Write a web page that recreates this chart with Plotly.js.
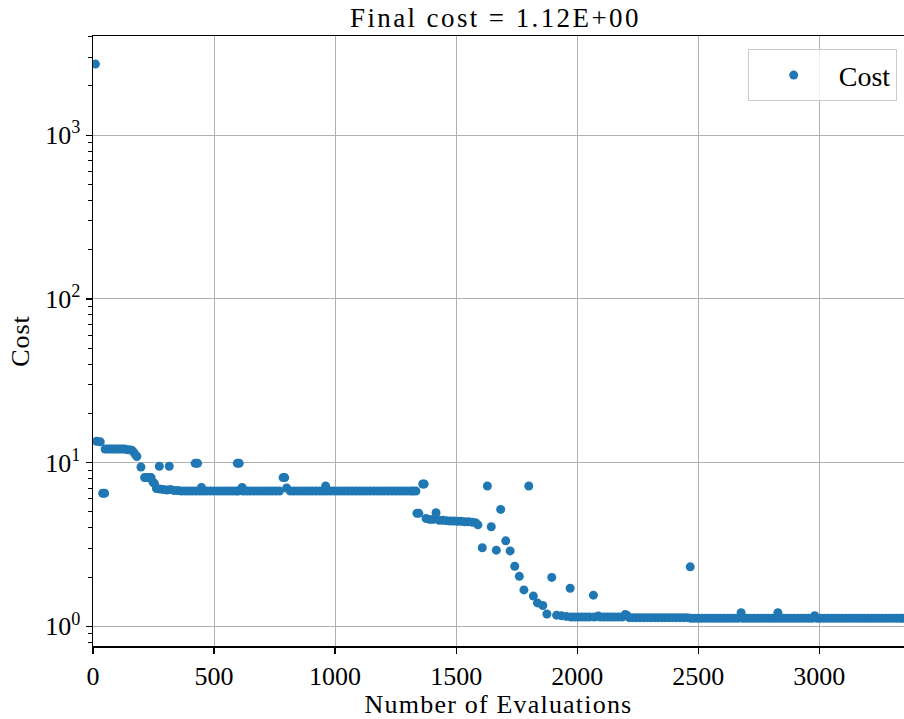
<!DOCTYPE html>
<html>
<head>
<meta charset="utf-8">
<script src="https://cdn.plot.ly/plotly-3.0.1.min.js"></script>
<style>
html,body{margin:0;padding:0;background:#fff;}
#chart{width:904px;height:719px;}
#chart .gtitle{letter-spacing:2.4px;}
#chart .xtitle{letter-spacing:1.2px;}
#chart .ytitle{letter-spacing:1px;}
</style>
</head>
<body>
<div id="chart"></div>
<script>
// Number of evaluations (x) and cost (y)
const evalsEarly = [10, 15, 30, 40, 48, 50, 60, 70, 80, 90, 100, 110, 120, 130, 140, 150, 160, 168, 175, 181, 198, 213, 222, 232, 240, 248, 254, 262, 274, 275, 290, 305, 315, 320, 335];
const costEarly  = [2720, 13.5, 13.4, 6.5, 6.5, 12.1, 12.1, 12.1, 12.1, 12.1, 12.1, 12.1, 12.1, 12.1, 12.0, 12.0, 11.9, 11.6, 11.2, 10.9, 9.4, 8.1, 8.1, 8.1, 8.1, 7.6, 7.45, 6.95, 9.5, 6.9, 6.85, 6.8, 9.5, 6.85, 6.75];

const evalsMid = [350, 365, 380, 395, 410, 422, 425, 432, 440, 448, 455, 470, 485, 500, 515, 530, 545, 560, 575, 590, 596, 600, 604, 616, 620, 635, 650, 665, 680, 695, 710, 725, 740, 755, 770, 785, 792, 800, 815, 830, 845, 860, 875, 890, 905, 920, 935, 950, 961, 965, 980, 995, 1010, 1025, 1040, 1055, 1070, 1085, 1100, 1115, 1130, 1145, 1160, 1175, 1190, 1205, 1220, 1235, 1250, 1265, 1280, 1295, 1310, 1322, 1334];
const costMid  = [6.75, 6.7, 6.7, 6.7, 6.7, 9.9, 6.7, 9.9, 6.7, 7.05,
                  6.7, 6.7, 6.7, 6.7, 6.7, 6.7, 6.7, 6.7, 6.7, 6.7,
                  9.9, 6.7, 9.9, 7.05,
                  6.7, 6.7, 6.7, 6.7, 6.7, 6.7, 6.7, 6.7, 6.7, 6.7, 6.7,
                  8.1, 8.1, 7.0,
                  6.7, 6.7, 6.7, 6.7, 6.7, 6.7, 6.7, 6.7, 6.7, 6.7,
                  7.2,
                  6.7, 6.7, 6.7, 6.7, 6.7, 6.7, 6.7, 6.7, 6.7, 6.7, 6.7, 6.7, 6.7,
                  6.7, 6.7, 6.7, 6.7, 6.7, 6.7, 6.7, 6.7, 6.7, 6.7, 6.7, 6.7, 6.7];

const evalsDrop = [1338, 1346, 1362, 1368, 1376, 1390, 1405, 1417, 1430, 1445, 1460, 1475, 1490, 1505, 1520, 1535, 1550, 1565, 1580, 1590, 1608, 1629, 1645, 1666, 1684, 1705, 1723, 1742, 1761, 1780, 1800, 1819, 1836, 1858, 1875, 1895, 1915, 1935, 1955, 1971];
const costDrop  = [4.9, 4.9, 7.4, 7.4, 4.56, 4.5, 4.5, 4.94, 4.45, 4.45, 4.42, 4.4, 4.4, 4.38, 4.38, 4.35, 4.35, 4.33, 4.3, 4.17, 3.02, 7.2, 4.06, 2.92, 5.18, 3.33, 2.89, 2.33, 2.02, 1.67, 7.2, 1.53, 1.39, 1.34, 1.19, 1.99, 1.17, 1.16, 1.15, 1.71];

const evalsLate = [1975, 1990, 2005, 2020, 2035, 2050, 2067, 2070, 2087, 2095, 2110, 2125, 2140, 2155, 2170, 2185, 2198, 2205,
                   2215, 2230, 2245, 2260, 2275, 2290, 2305, 2320, 2335, 2350, 2365, 2380, 2395, 2410, 2425, 2440, 2455, 2467,
                   2470, 2485, 2500, 2515, 2530, 2545, 2560, 2575, 2590, 2605, 2620, 2635, 2650, 2665, 2677,
                   2685, 2700, 2715, 2730, 2745, 2760, 2775, 2790, 2805, 2820, 2829,
                   2835, 2850, 2865, 2880, 2895, 2910, 2925, 2940, 2955, 2970, 2981,
                   2990, 3005, 3020, 3035, 3050, 3065, 3080, 3095, 3110, 3125, 3140, 3155, 3170, 3185, 3200, 3215, 3230, 3245, 3260, 3275, 3290, 3305, 3320, 3335, 3345];
const costLate  = [1.14, 1.14, 1.14, 1.14, 1.14, 1.14, 1.55, 1.14, 1.155, 1.14, 1.14, 1.14, 1.14, 1.14, 1.14, 1.14, 1.18, 1.17,
                   1.13, 1.13, 1.13, 1.13, 1.13, 1.13, 1.13, 1.13, 1.13, 1.13, 1.13, 1.13, 1.13, 1.13, 1.13, 1.13, 1.13, 2.31,
                   1.12, 1.12, 1.12, 1.12, 1.12, 1.12, 1.12, 1.12, 1.12, 1.12, 1.12, 1.12, 1.12, 1.12, 1.21,
                   1.12, 1.12, 1.12, 1.12, 1.12, 1.12, 1.12, 1.12, 1.12, 1.12, 1.21,
                   1.12, 1.12, 1.12, 1.12, 1.12, 1.12, 1.12, 1.12, 1.12, 1.12, 1.16,
                   1.12, 1.12, 1.12, 1.12, 1.12, 1.12, 1.12, 1.12, 1.12, 1.12, 1.12, 1.12, 1.12, 1.12, 1.12, 1.12, 1.12, 1.12, 1.12, 1.12, 1.12, 1.12, 1.12, 1.12, 1.12];

const xTickVals = [0, 500, 1000, 1500, 2000, 2500, 3000];
const yTickVals = [1, 10, 100, 1000];
const yTickText = ['10<sup>0</sup>', '10<sup>1</sup>', '10<sup>2</sup>', '10<sup>3</sup>'];
const yMinorVals = [0.8, 0.9, 2, 3, 4, 5, 6, 7, 8, 9, 20, 30, 40, 50, 60, 70, 80, 90, 200, 300, 400, 500, 600, 700, 800, 900, 2000, 3000, 4000];

const xs = evalsEarly.concat(evalsMid, evalsDrop, evalsLate);
const ys = costEarly.concat(costMid, costDrop, costLate);

const fam = '"Liberation Serif", "DejaVu Serif", serif';
const font = {family: fam, size: 26, color: '#000'};
const titleFont = {family: fam, size: 27, color: '#000'};
const legendFont = {family: fam, size: 28, color: '#000'};

const trace = {
  x: xs, y: ys, type: 'scatter', mode: 'markers', name: 'Cost',
  marker: {color: '#1f77b4', size: 9}
};

const layout = {
  width: 904, height: 719,
  margin: {l: 93, r: 0, t: 36, b: 73},
  paper_bgcolor: '#fff', plot_bgcolor: '#fff',
  font: font,
  title: {text: 'Final cost = 1.12E+00', font: titleFont, x: 0.548, xanchor: 'center', y: 0.976, yanchor: 'middle'},
  showlegend: true,
  legend: {x: 0.991, xanchor: 'right', y: 0.978, yanchor: 'top', bgcolor: 'rgba(255,255,255,0.8)', bordercolor: '#cccccc', borderwidth: 1, font: legendFont, itemwidth: 80},
  xaxis: {
    range: [0, 3350], tickvals: xTickVals, ticks: 'outside', ticklen: 6, tickwidth: 1.2, tickcolor: '#000',
    showline: true, linecolor: '#000', linewidth: 1.5, mirror: true,
    showgrid: true, gridcolor: '#b0b0b0', gridwidth: 1, zeroline: false,
    title: {text: 'Number of Evaluations', font: font, standoff: 2},
    tickfont: font
  },
  yaxis: {
    type: 'log', range: [-0.12, 3.606], tickvals: yTickVals, ticktext: yTickText,
    ticks: 'outside', ticklen: 6, tickwidth: 1.2, tickcolor: '#000',
    minor: {tickmode: 'array', tickvals: yMinorVals, ticks: 'outside', ticklen: 3.5, tickwidth: 1, tickcolor: '#000', showgrid: false},
    showline: true, linecolor: '#000', linewidth: 1.5, mirror: true,
    showgrid: true, gridcolor: '#b0b0b0', gridwidth: 1, zeroline: false,
    title: {text: 'Cost', font: font, standoff: 8},
    tickfont: font
  }
};

Plotly.newPlot('chart', [trace], layout, {displayModeBar: false, staticPlot: true});
</script>
</body>
</html>
